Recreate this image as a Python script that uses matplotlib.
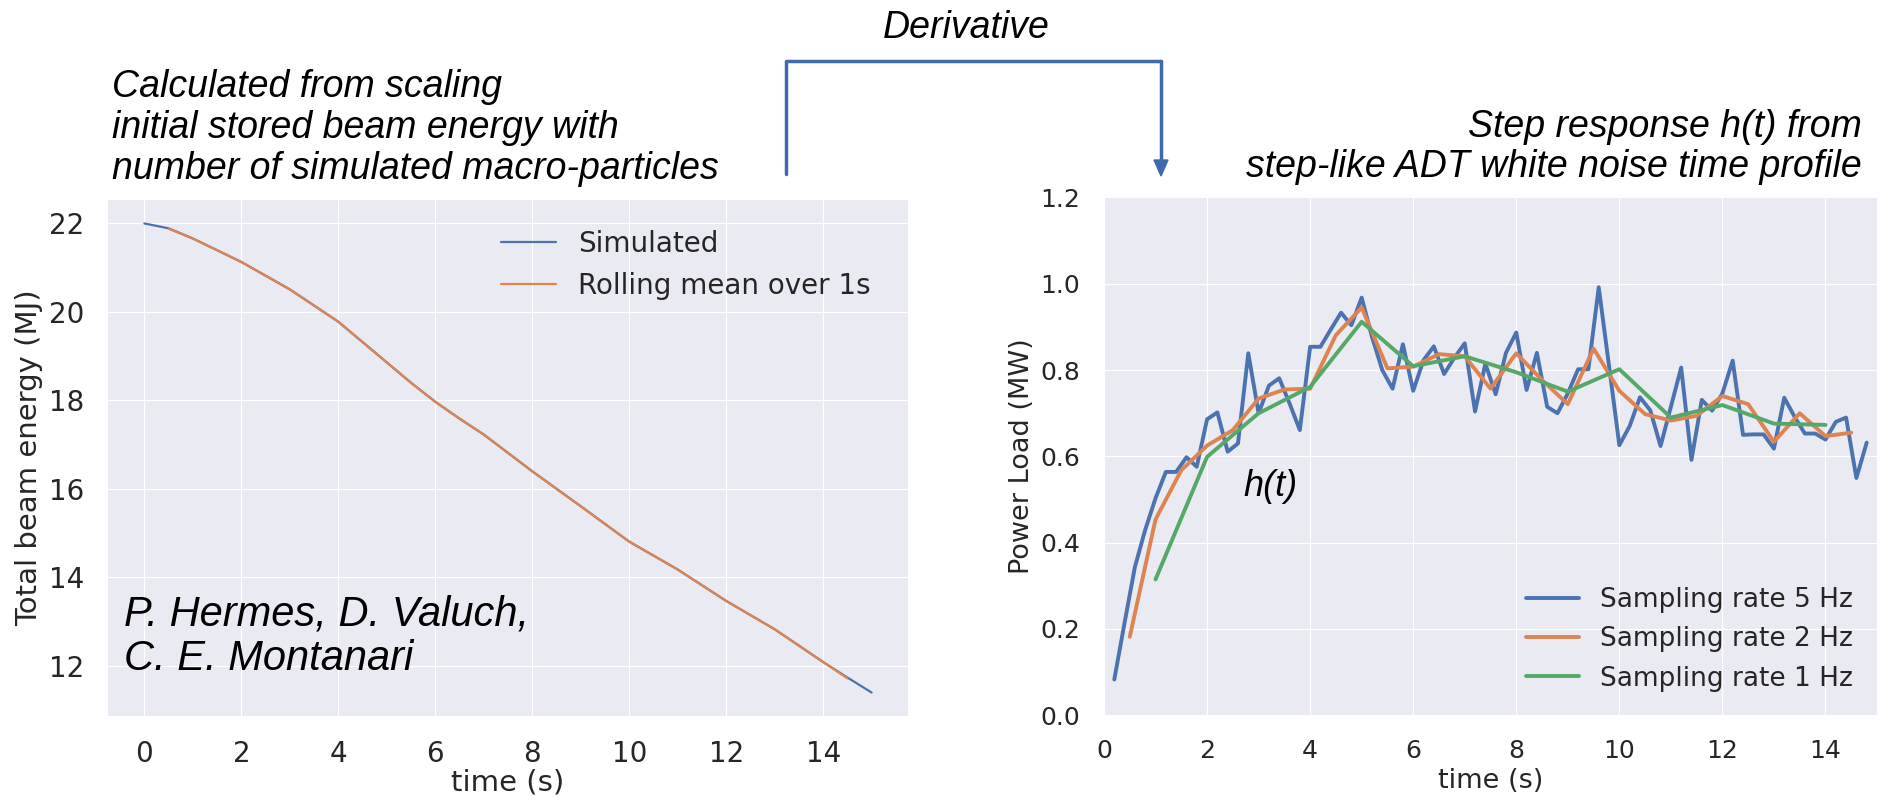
import matplotlib.pyplot as plt
import numpy as np

# left panel: total beam energy (MJ)
t_sim = [0, 0.5, 1, 2, 3, 4, 5, 5.5, 6, 6.5, 7, 8, 9, 10, 11, 12, 13, 14, 14.5, 15]
e_sim = [22.00, 21.89, 21.66, 21.13, 20.51, 19.78, 18.86, 18.40, 17.97, 17.59,
         17.23, 16.40, 15.61, 14.81, 14.18, 13.47, 12.83, 12.09, 11.74, 11.40]
t_roll = [0.5, 1, 2, 3, 4, 5, 5.5, 6, 6.5, 7, 8, 9, 10, 11, 12, 13, 14, 14.5]
e_roll = [21.88, 21.66, 21.13, 20.51, 19.78, 18.86, 18.40, 17.97, 17.59,
          17.23, 16.40, 15.61, 14.81, 14.18, 13.47, 12.83, 12.09, 11.72]

# right panel: power load (MW) at three sampling rates
t_5hz = np.round(np.arange(0.2, 14.81, 0.2), 1)
p_5hz = [0.083, 0.215, 0.344, 0.43, 0.503, 0.564, 0.564, 0.598, 0.576, 0.686,
         0.702, 0.611, 0.630, 0.839, 0.700, 0.764, 0.781, 0.723, 0.661, 0.854,
         0.854, 0.894, 0.933, 0.904, 0.968, 0.877, 0.800, 0.757, 0.860, 0.752,
         0.823, 0.855, 0.791, 0.829, 0.862, 0.704, 0.815, 0.744, 0.840, 0.887,
         0.754, 0.840, 0.715, 0.700, 0.746, 0.802, 0.802, 0.992, 0.810, 0.626,
         0.670, 0.737, 0.707, 0.624, 0.715, 0.806, 0.592, 0.731, 0.706, 0.746,
         0.822, 0.650, 0.651, 0.651, 0.618, 0.736, 0.692, 0.653, 0.653, 0.639,
         0.680, 0.690, 0.550, 0.632]
t_2hz = np.arange(0.5, 14.51, 0.5)
p_2hz = [0.182, 0.454, 0.568, 0.625, 0.661, 0.734, 0.755, 0.757, 0.881, 0.945,
         0.804, 0.808, 0.837, 0.832, 0.757, 0.839, 0.777, 0.721, 0.850, 0.752,
         0.698, 0.683, 0.694, 0.740, 0.721, 0.634, 0.700, 0.647, 0.655]
t_1hz = np.arange(1, 15)
p_1hz = [0.315, 0.599, 0.700, 0.761, 0.912, 0.809, 0.832, 0.795, 0.750, 0.802,
         0.690, 0.719, 0.676, 0.673]

blue, orange, green = "#4C72B0", "#DD8452", "#55A868"
W, H = 1882, 797

plt.style.use("seaborn-v0_8-darkgrid")
plt.rcParams["font.family"] = "DejaVu Sans"
plt.rcParams["text.color"] = ".15"
plt.rcParams["axes.labelcolor"] = ".15"
plt.rcParams["xtick.color"] = ".15"
plt.rcParams["ytick.color"] = ".15"

fig = plt.figure(figsize=(W / 100, H / 100), dpi=100)

def px_text(x, y, s, **kw):
    fig.text(x / W, 1 - y / H, s, **kw)

# --- left plot
ax1 = fig.add_axes([108 / W, 1 - 716 / H, 800 / W, 516 / H])
ax1.plot(t_sim, e_sim, color=blue, lw=1.6, label="Simulated")
ax1.plot(t_roll, e_roll, color=orange, lw=1.6, label="Rolling mean over 1s")
ax1.set_xlim(-0.75, 15.75)
ax1.set_ylim(10.87, 22.53)
ax1.set_xticks(range(0, 15, 2))
ax1.set_yticks(range(12, 23, 2))
ax1.tick_params(labelsize=20, pad=17)
ax1.set_xlabel("time (s)", fontsize=21, labelpad=1)
ax1.set_ylabel("Total beam energy (MJ)", fontsize=21)
ax1.legend(loc="upper right", fontsize=20, frameon=False,
           bbox_to_anchor=(0.985, 0.99))

# --- right plot
ax2 = fig.add_axes([1104 / W, 1 - 715.3 / H, 773 / W, 517.8 / H])
ax2.plot(t_5hz, p_5hz, color=blue, lw=2.8, label="Sampling rate 5 Hz")
ax2.plot(t_2hz, p_2hz, color=orange, lw=2.8, label="Sampling rate 2 Hz")
ax2.plot(t_1hz, p_1hz, color=green, lw=2.8, label="Sampling rate 1 Hz")
ax2.set_xlim(0, 15)
ax2.set_ylim(0, 1.2)
ax2.set_xticks(range(0, 15, 2))
ax2.set_yticks(np.arange(0, 1.21, 0.2))
ax2.tick_params(labelsize=18, pad=17)
ax2.set_xlabel("time (s)", fontsize=19.5, labelpad=4)
ax2.set_ylabel("Power Load (MW)", fontsize=19.5)
ax2.legend(loc="lower right", fontsize=19, frameon=False)

# --- annotations
ann = dict(family="Liberation Sans", style="italic", color="black")
px_text(112, 128, "Calculated from scaling\ninitial stored beam energy with\nnumber of simulated macro-particles",
        fontsize=27, ha="left", va="center", linespacing=1.17, **ann)
px_text(1862, 147, "Step response h(t) from\nstep-like ADT white noise time profile",
        fontsize=27, ha="right", va="center", linespacing=1.17, **ann)
px_text(966, 28, "Derivative", fontsize=27, ha="center", va="center", **ann)
px_text(1270, 486, "h(t)", fontsize=26, ha="center", va="center", **ann)
px_text(124, 637, "P. Hermes, D. Valuch,\nC. E. Montanari",
        fontsize=30, ha="left", va="center", linespacing=1.15, **ann)

# bracket arrow between the two panels
bx = np.array([786, 786, 1161]) / W
by = 1 - np.array([174, 61, 61]) / H
fig.add_artist(plt.Line2D(bx, by, color="#3F6BAE", lw=2.5))
fig.add_artist(plt.Line2D([1161 / W, 1161 / W], [1 - 61 / H, 1 - 162 / H], color="#3F6BAE", lw=2.5))
fig.patches.append(plt.Polygon([[1154 / W, 1 - 160 / H], [1168 / W, 1 - 160 / H], [1161 / W, 1 - 176 / H]],
                               closed=True, color="#3F6BAE", transform=fig.transFigure))

fig.savefig("out.png", dpi=100)
